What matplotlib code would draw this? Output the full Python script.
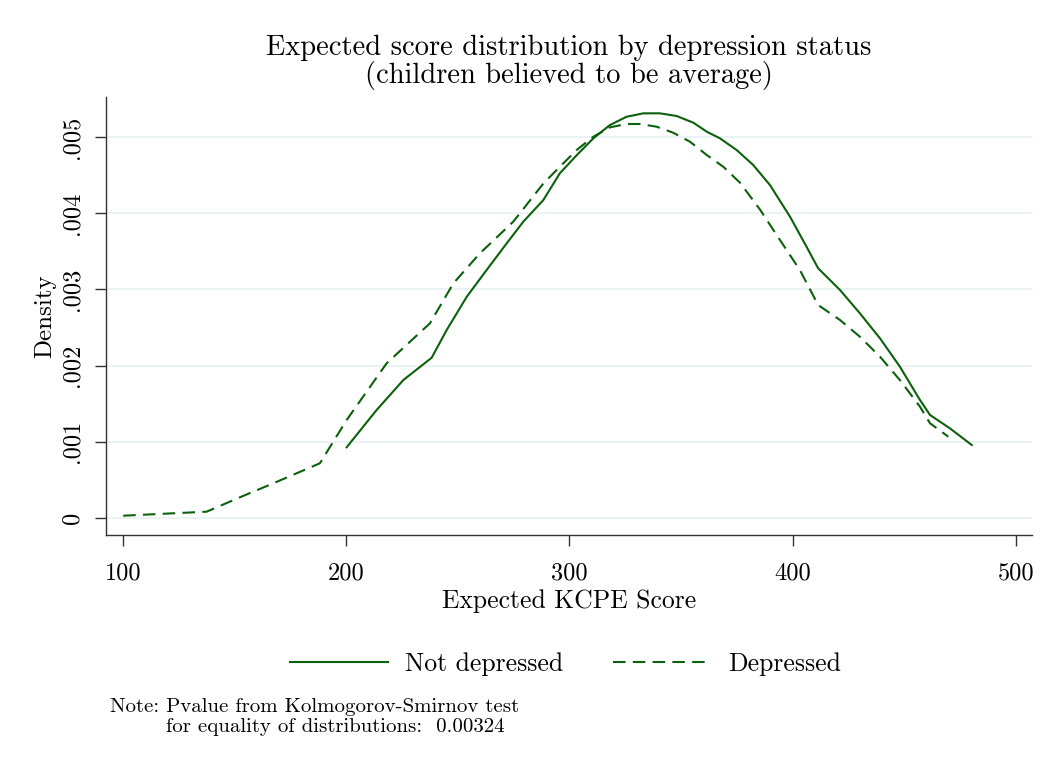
import matplotlib
matplotlib.use("Agg")
import matplotlib.pyplot as plt

plt.rcParams["font.family"] = ["cmr10", "DejaVu Serif"]
plt.rcParams["axes.unicode_minus"] = False

# kernel density estimates (x = expected score, y = density x 1000)
score_not_dep = [200.2, 213.6, 225.6, 238.3, 245.0, 254.0, 262.9, 271.9, 279.3,
                 288.3, 295.7, 303.2, 310.7, 318.1, 325.6, 333.1, 340.5, 348.0,
                 355.5, 361.5, 367.4, 374.9, 382.3, 389.8, 398.8, 406.2, 411.4,
                 421.2, 430.1, 439.1, 448.0, 457.0, 461.5, 470.4, 480.2]
dens_not_dep = [0.928, 1.417, 1.811, 2.104, 2.467, 2.904, 3.255, 3.605, 3.888,
                4.173, 4.524, 4.76, 4.983, 5.157, 5.266, 5.311, 5.311, 5.276,
                5.188, 5.07, 4.983, 4.829, 4.633, 4.37, 3.954, 3.56, 3.277,
                2.992, 2.686, 2.358, 1.986, 1.549, 1.352, 1.177, 0.958]

score_dep = [100.1, 137.5, 152.4, 167.3, 188.2, 200.2, 218.1, 237.5, 248.0,
             259.9, 274.8, 288.3, 295.7, 303.2, 310.7, 318.1, 325.6, 331.6,
             339.1, 346.5, 354.0, 361.5, 368.9, 376.4, 385.3, 394.3, 403.2,
             411.4, 421.2, 430.1, 439.1, 448.0, 457.0, 461.5, 469.7]
dens_dep = [0.03, 0.083, 0.272, 0.455, 0.718, 1.286, 2.03, 2.555, 3.08,
            3.474, 3.888, 4.39, 4.61, 4.829, 5.004, 5.127, 5.171, 5.171,
            5.135, 5.056, 4.938, 4.764, 4.61, 4.40, 4.05, 3.648, 3.255,
            2.795, 2.598, 2.379, 2.117, 1.811, 1.461, 1.243, 1.067]

x_ticks = [100, 200, 300, 400, 500]
y_ticks = [0, 0.001, 0.002, 0.003, 0.004, 0.005]
y_tick_labels = ["0", ".001", ".002", ".003", ".004", ".005"]

green = "#0b610b"

fig = plt.figure(figsize=(10.61, 7.70), dpi=100)
ax = fig.add_axes([0.0999, 0.3052, 0.8728, 0.5688])

ax.plot(score_not_dep, [d / 1000 for d in dens_not_dep], color=green, lw=1.5,
        label="Not depressed")
ax.plot(score_dep, [d / 1000 for d in dens_dep], color=green, lw=1.5,
        dashes=(6, 3.5), label="Depressed")

ax.set_xlim(92.4, 507.2)
ax.set_ylim(-0.000223, 0.005525)
ax.set_xticks(x_ticks)
ax.set_xticklabels([str(v) for v in x_ticks], fontsize=17.5)
ax.set_yticks(y_ticks)
ax.set_yticklabels(y_tick_labels, fontsize=17.5, rotation=90, va="center")
ax.tick_params(direction="out", length=8, width=1.0, color="#333333")
ax.tick_params(axis="x", pad=12)
ax.tick_params(axis="y", pad=8)
ax.grid(axis="y", color="#e8f0f2", lw=1.2)
ax.set_axisbelow(True)
for s in ["top", "right"]:
    ax.spines[s].set_visible(False)
for s in ["left", "bottom"]:
    ax.spines[s].set_color("#333333")
    ax.spines[s].set_linewidth(1.0)

ax.set_xlabel("Expected KCPE Score", fontsize=18.5, labelpad=3)
ax.set_ylabel("Density", fontsize=18, labelpad=4)
ax.set_title("Expected score distribution by depression status\n"
             "(children believed to be average)", fontsize=20.5, pad=10,
             linespacing=1.0)

fig.legend(loc="center", bbox_to_anchor=(0.533, 0.137), ncol=2, frameon=False,
           fontsize=18.5, handlelength=3.8, handletextpad=0.66, columnspacing=1.95)

fig.text(0.104, 0.069, "Note: Pvalue from Kolmogorov-Smirnov test\n"
         "        for equality of distributions:  0.00324",
         fontsize=15, va="center", ha="left", linespacing=1.1)

fig.savefig("out.png", dpi=100)
